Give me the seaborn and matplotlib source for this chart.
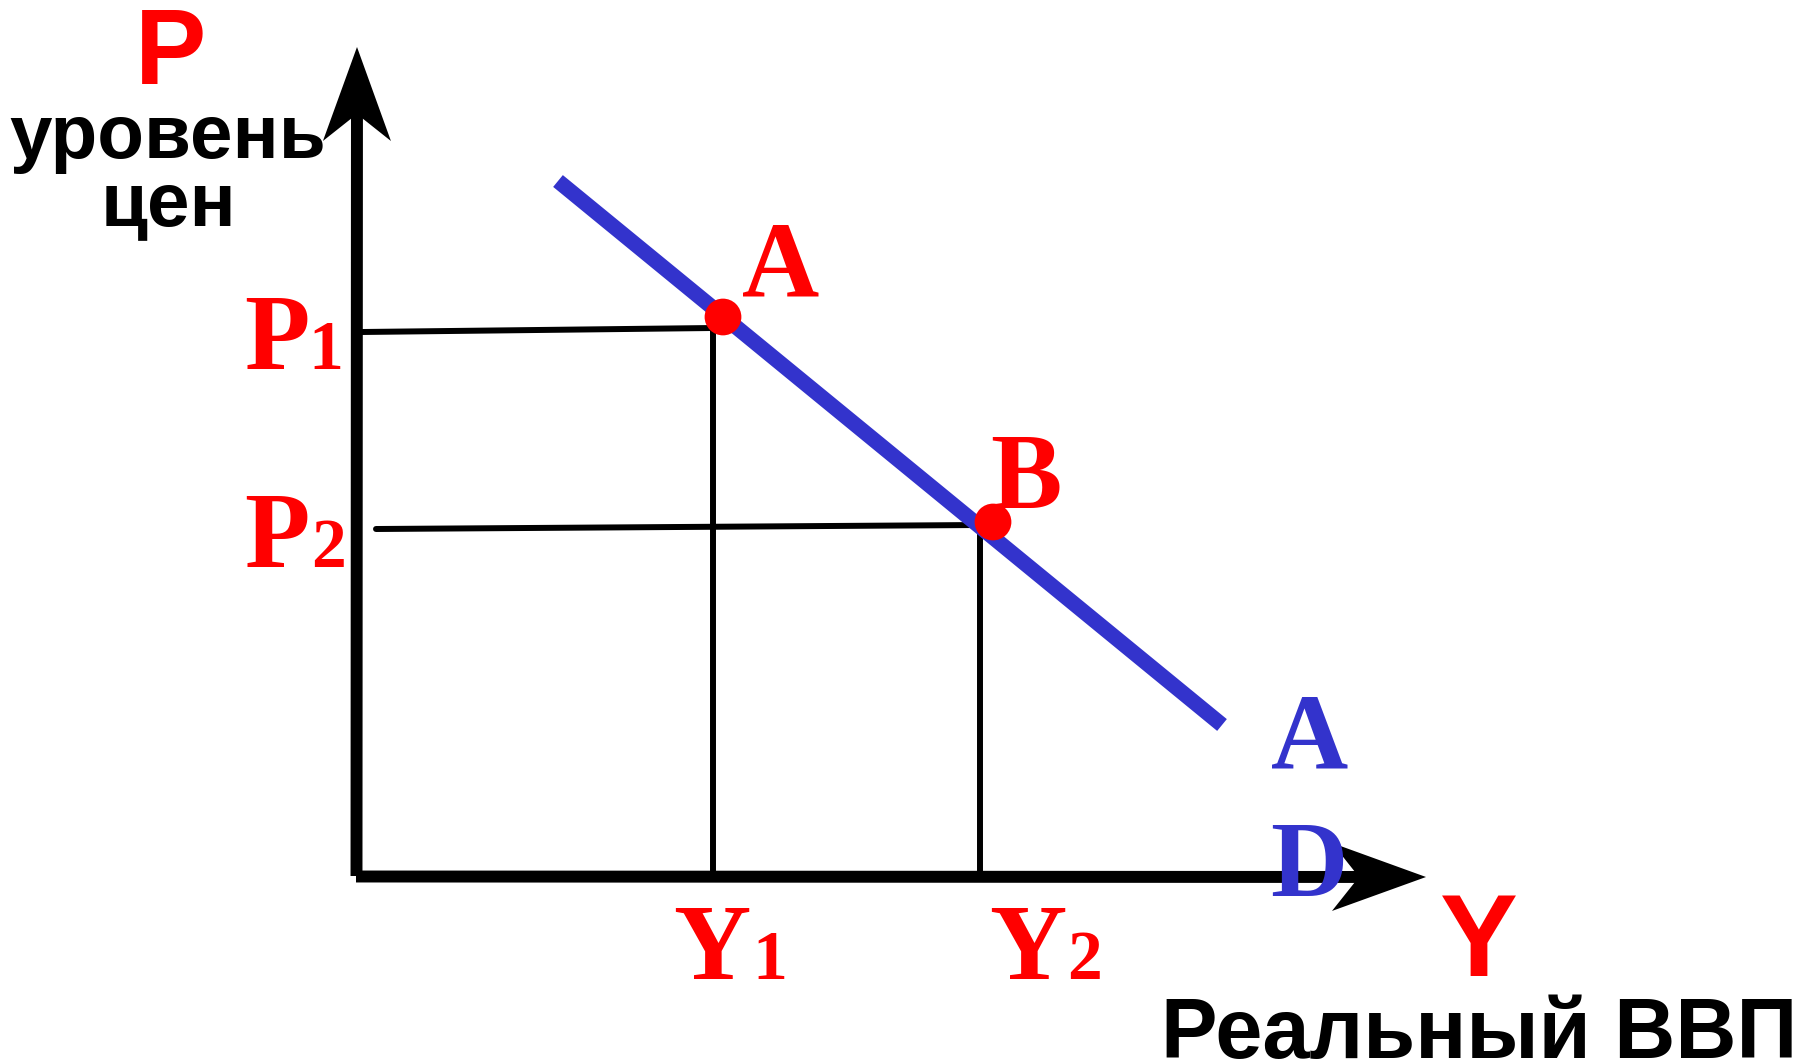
import numpy as np
import pandas as pd
import matplotlib
matplotlib.use("Agg")
import matplotlib.pyplot as plt
import seaborn as sns

# ---- data (pixel-space coordinates of the diagram, y grows downward) ----
ad_x = [558, 1222]
ad_y = [181, 725]

p1_guide_x = [362, 713, 713]
p1_guide_y = [332, 328, 876]
p2_guide_x = [376, 980, 980]
p2_guide_y = [529, 525, 876]

points_x = [723, 993]
points_y = [317, 522]
point_names = ["A", "B"]

price_labels = ["1", "2"]
output_labels = ["1", "2"]

sns.set_theme(style="white")
plt.rcParams["font.family"] = ["Liberation Sans", "DejaVu Sans"]

W, H = 1817, 1063
fig = plt.figure(figsize=(W / 100, H / 100), dpi=100)
ax = fig.add_axes([0, 0, 1, 1])
ax.set_xlim(0, W)
ax.set_ylim(H, 0)
ax.axis("off")

BLUE = "#3333CC"
RED = "#FF0000"
SERIF = "Liberation Serif"
SANS = "Liberation Sans"

# guide lines
for gx, gy in [(p1_guide_x, p1_guide_y), (p2_guide_x, p2_guide_y)]:
    sns.lineplot(x=gx, y=gy, sort=False, estimator=None, color="black",
                 lw=4.3, ax=ax, solid_joinstyle="miter")

# AD curve
sns.lineplot(x=ad_x, y=ad_y, sort=False, estimator=None, color=BLUE,
             lw=11, ax=ax, solid_capstyle="butt")

# points
sns.scatterplot(x=points_x, y=points_y, color=RED, s=700, edgecolor="none",
                ax=ax, zorder=5)

# axes with notched arrowheads
def arrow(x0, y0, x1, y1, length=94, half=34, notch=27, lw=8.6):
    d = np.array([x1 - x0, y1 - y0], float)
    d /= np.linalg.norm(d)
    n = np.array([-d[1], d[0]])
    tip = np.array([x1, y1], float)
    base = tip - d * length
    notch_pt = base + d * notch
    ax.plot([x0, notch_pt[0]], [y0, notch_pt[1]], color="black", lw=lw,
            solid_capstyle="butt", zorder=6)
    poly = np.array([tip, base + n * half, notch_pt, base - n * half])
    ax.fill(poly[:, 0], poly[:, 1], color="black", lw=0, zorder=6)

arrow(356.5, 876, 357, 47)
arrow(356, 876.5, 1426, 877)

# axis titles (sans)
ax.text(170, 84, "P", color=RED, fontsize=77, fontweight="bold",
        family=SANS, ha="center", va="baseline")
ax.text(168, 158, "уровень", color="black", fontsize=55, fontweight="bold",
        family=SANS, ha="center", va="baseline")
ax.text(168, 225, "цен", color="black", fontsize=55, fontweight="bold",
        family=SANS, ha="center", va="baseline")
ax.text(1479, 976, "Y", color=RED, fontsize=84, fontweight="bold",
        family=SANS, ha="center", va="baseline")
ax.text(1479, 1058, "Реальный ВВП", color="black", fontsize=61,
        fontweight="bold", family=SANS, ha="center", va="baseline")

# serif labels
def sub_label(main, sub, xm, xs, yb, color=RED):
    ax.text(xm, yb, main, color=color, fontsize=77, fontweight="bold",
            family=SERIF, ha="center", va="baseline", zorder=7)
    ax.text(xs, yb, sub, color=color, fontsize=50, fontweight="bold",
            family=SERIF, ha="center", va="baseline", zorder=7)

sub_label("P", price_labels[0], 277, 326, 369)
sub_label("P", price_labels[1], 277, 329, 567)
sub_label("Y", output_labels[0], 712, 770, 979)
sub_label("Y", output_labels[1], 1028, 1085, 979)

ax.text(781, 297, point_names[0], color=RED, fontsize=77, fontweight="bold",
        family=SERIF, ha="center", va="baseline", zorder=7)
ax.text(1026, 508, point_names[1], color=RED, fontsize=77, fontweight="bold",
        family=SERIF, ha="center", va="baseline", zorder=7)

ax.text(1310, 768, "A", color=BLUE, fontsize=77, fontweight="bold",
        family=SERIF, ha="center", va="baseline", zorder=7)
ax.text(1309, 896, "D", color=BLUE, fontsize=77, fontweight="bold",
        family=SERIF, ha="center", va="baseline", zorder=7)

fig.savefig("out.png", dpi=100, facecolor="white")
